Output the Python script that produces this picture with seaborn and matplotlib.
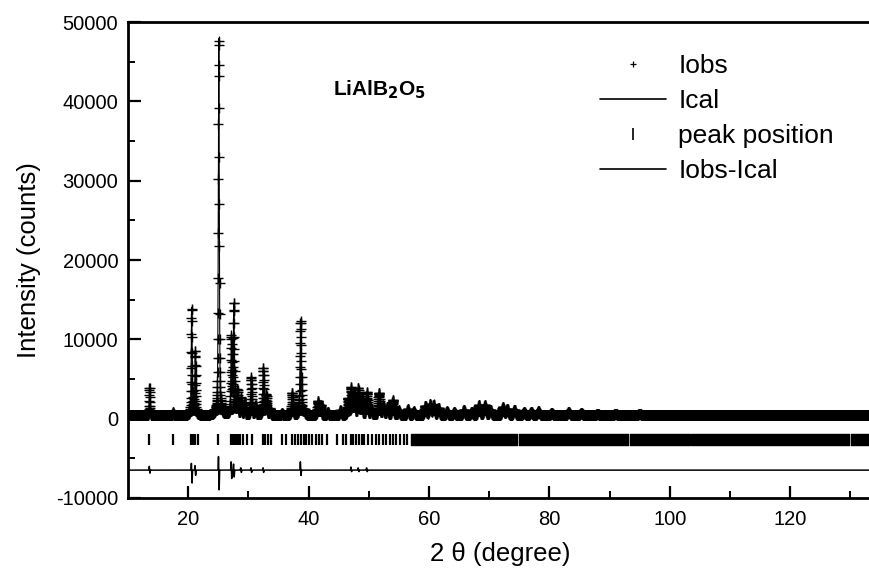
import numpy as np
import pandas as pd
import seaborn as sns
import matplotlib.pyplot as plt
from matplotlib.lines import Line2D

# Reflections: 2theta position and height above background
peak_pos = [13.6, 17.5, 20.6, 21.2, 25.1, 27.2, 27.6, 28.2, 28.8, 29.4,
            30.5, 31.2, 32.5, 33.0, 33.6, 35.6, 37.3, 38.7, 39.3, 41.6,
            42.0, 43.2, 45.3, 46.6, 47.1, 47.6, 48.3, 48.8, 49.7, 50.4,
            51.7, 52.4, 53.1, 54.0, 55.0, 56.5, 57.5, 59.4, 60.2, 60.8,
            61.6, 63.0, 64.2, 65.8, 67.1, 68.3, 69.3, 70.2, 72.3, 73.0,
            74.2, 75.8, 77.0, 78.2, 80.4, 83.2, 85.3, 88.0, 91.0, 95.0]
peak_height = [3400, 400, 13500, 8000, 47500, 9400, 13800, 3000, 2000, 1500,
               4700, 1200, 5900, 2500, 800, 300, 2800, 11500, 600, 1800,
               1200, 400, 600, 2000, 3200, 2500, 3200, 2000, 2700, 800,
               2800, 1200, 1000, 1900, 600, 800, 500, 1200, 1400, 1300,
               900, 500, 400, 700, 400, 1300, 1300, 700, 1000, 800,
               700, 400, 400, 500, 300, 400, 300, 200, 200, 200]
background = 400

# Misfit spikes in the difference curve (up / down excursion)
diff_pos = [13.6, 20.6, 21.2, 25.1, 27.2, 27.6, 28.8, 30.5, 32.5, 38.7, 47.1, 48.3, 49.7]
diff_up = [500, 900, 600, 1800, 1100, 800, 300, 300, 300, 1100, 400, 300, 300]
diff_down = [400, 1700, 700, 2600, 1100, 900, 300, 300, 300, 700, 200, 200, 200]
diff_offset = -6500

# Bragg peak markers (sparse part) and fully packed bands at higher angle
tick_pos = [13.55, 17.45, 20.4, 20.8, 21.2, 21.7, 25.05, 27.2, 27.5, 27.8,
            28.1, 28.4, 28.7, 29.1, 29.8, 30.6, 32.4, 32.8, 33.3, 33.8,
            35.6, 36.2, 37.3, 37.7, 38.2, 38.7, 39.2, 39.6, 40.1, 40.6,
            41.2, 41.8, 42.3, 43.1, 44.8, 45.8, 46.3, 47.0, 47.4, 47.9,
            48.4, 48.9, 49.3, 49.8, 50.5, 51.2, 51.7, 52.3, 52.9, 53.5,
            54.1, 54.6, 55.2, 55.8, 56.4]
tick_bands = [(57.0, 74.6), (74.9, 93.1), (93.4, 103.3), (103.6, 129.8), (130.1, 134.0)]

two_theta = np.arange(10, 134, 0.02)


def pvoigt(x, x0, h, w):
    u = (x - x0) / w
    return h * (0.5 * np.exp(-4 * np.log(2) * u ** 2) + 0.5 / (1 + 4 * u ** 2))


ical = np.full_like(two_theta, background, dtype=float)
for p, h in zip(peak_pos, peak_height):
    ical += pvoigt(two_theta, p, h, 0.13 + 0.004 * (p - 10))

diff = np.zeros_like(two_theta)
for p, up, dn in zip(diff_pos, diff_up, diff_down):
    diff += up * np.exp(-((two_theta - p + 0.05) / 0.05) ** 2)
    diff -= dn * np.exp(-((two_theta - p - 0.05) / 0.05) ** 2)

df = pd.DataFrame({"two_theta": two_theta, "Ical": ical,
                   "Iobs": ical + diff, "diff": diff + diff_offset})

sns.set_style("ticks")
plt.rcParams["font.family"] = ["Liberation Sans", "DejaVu Sans"]
plt.rcParams["xtick.direction"] = "in"
plt.rcParams["ytick.direction"] = "in"
plt.rcParams["axes.unicode_minus"] = False
for key in ["text.color", "axes.labelcolor", "xtick.color", "ytick.color", "axes.edgecolor"]:
    plt.rcParams[key] = "black"

fig = plt.figure(figsize=(8.7, 5.69), dpi=100)
ax = fig.add_axes([0.147, 0.125, 0.856, 0.836])

sns.scatterplot(data=df, x="two_theta", y="Iobs", marker="+", s=45,
                color="black", linewidth=1.0, ax=ax, zorder=3)
sns.lineplot(data=df, x="two_theta", y="Ical", color="black", lw=0.8,
             estimator=None, sort=False, ax=ax, zorder=4)
sns.lineplot(data=df, x="two_theta", y="diff", color="black", lw=1.1,
             estimator=None, sort=False, ax=ax)
ax.vlines(tick_pos, -3300, -1900, color="black", lw=1.6)
ax.broken_barh([(a, b - a) for a, b in tick_bands], (-3300, 1400), color="black")

ax.set_xlim(10, 133.7)
ax.set_ylim(-10000, 50000)
ax.set_xticks([20, 40, 60, 80, 100, 120])
ax.set_xticks([30, 50, 70, 90, 110, 130], minor=True)
ax.set_yticks(range(-10000, 50001, 10000))
ax.set_yticks(range(-5000, 50001, 10000), minor=True)
ax.tick_params(which="major", length=9, width=1.6, labelsize=14.5)
ax.tick_params(axis="x", which="major", pad=9)
ax.tick_params(axis="y", which="major", pad=7)
ax.tick_params(which="minor", length=5, width=1.4)
for s in ax.spines.values():
    s.set_linewidth(2)
ax.set_xlabel("2 θ (degree)", fontsize=18.5, labelpad=9)
ax.set_ylabel("Intensity (counts)", fontsize=18.5, labelpad=11)

ax.text(44.0, 41500, r"LiAlB$_\mathbf{2}$O$_\mathbf{5}$", fontsize=15,
        fontweight="bold", ha="left", va="center")

handles = [Line2D([], [], ls="none", marker="+", color="black", markersize=5, mew=0.9),
           Line2D([], [], color="black", lw=1.2),
           Line2D([], [], ls="none", marker="|", color="black", markersize=8, mew=1.2),
           Line2D([], [], color="black", lw=1.2)]
labels = ["Iobs", "Ical", "peak position", "Iobs-Ical"]
ax.legend(handles, labels, loc="upper left", bbox_to_anchor=(0.69, 0.905),
          bbox_transform=fig.transFigure, frameon=False, fontsize=19,
          handlelength=2.5, handletextpad=0.45, labelspacing=0.42,
          borderpad=0, borderaxespad=0)

plt.savefig("out.png", dpi=100)
plt.close()
